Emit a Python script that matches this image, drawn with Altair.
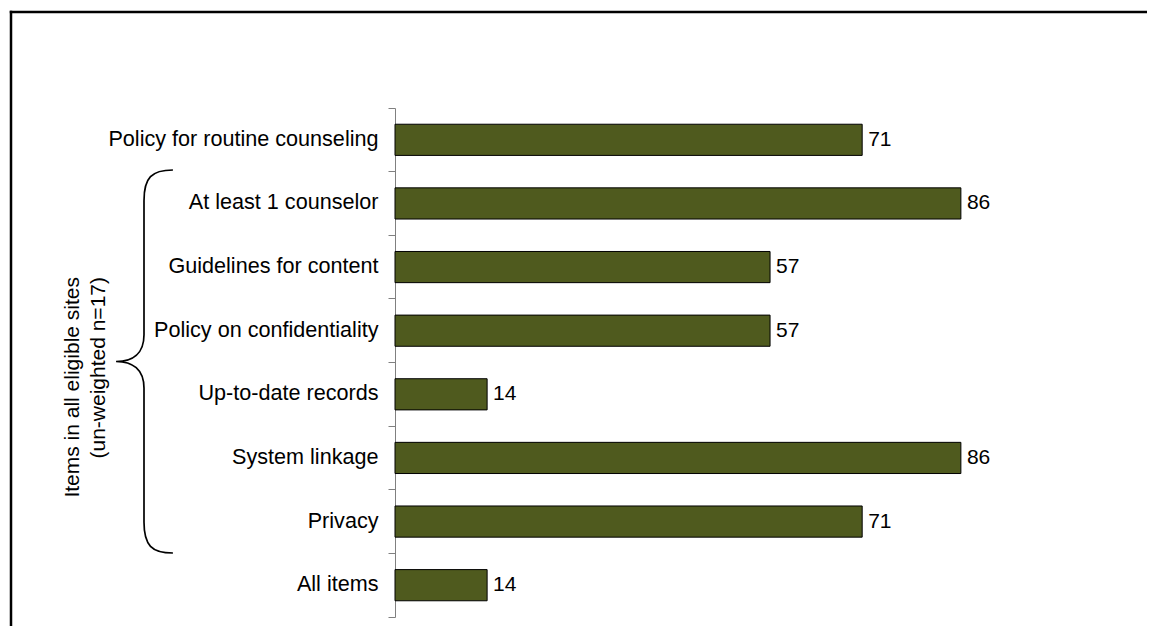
import altair as alt
import pandas as pd

categories = [
    "Policy for routine counseling",
    "At least 1 counselor",
    "Guidelines for content",
    "Policy on confidentiality",
    "Up-to-date records",
    "System linkage",
    "Privacy",
    "All items",
]
values = [71, 86, 57, 57, 14, 86, 71, 14]
group_label = ["Items in all eligible sites", "(un-weighted n=17)"]

FONT = "Liberation Sans"
BAR_COLOR = "#4F5A1E"

df = pd.DataFrame({"item": categories, "pct": values})

y_enc = alt.Y(
    "item:N",
    sort=categories,
    scale=alt.Scale(paddingInner=0, paddingOuter=0),
    axis=alt.Axis(
        title=None,
        labelFontSize=21.6,
        labelFont=FONT,
        labelColor="black",
        labelPadding=10,
        labelLimit=500,
        tickSize=7,
        tickColor="#808080",
        domainColor="#808080",
        bandPosition=1,
        tickExtra=True,
    ),
)
x_enc = alt.X("pct:Q", scale=alt.Scale(domain=[0, 100]), axis=None)

bars = alt.Chart(df).mark_bar(
    height={"band": 0.49}, color=BAR_COLOR, stroke="black", strokeWidth=1
).encode(x=x_enc, y=y_enc)

labels = alt.Chart(df).mark_text(
    align="left", baseline="middle", dx=6, fontSize=21, font=FONT, color="black"
).encode(x=x_enc, y=alt.Y("item:N", sort=categories), text="pct:Q")

one = alt.Data(values=[{"a": 1}])

frame_v = alt.Chart(one).mark_rule(color="black", strokeWidth=2.5).encode(
    x=alt.value(-384), y=alt.value(-97.25), y2=alt.value(620)
)
frame_h = alt.Chart(one).mark_rule(color="black", strokeWidth=2.5).encode(
    x=alt.value(-385.25), x2=alt.value(900), y=alt.value(-96)
)

brace_path = (
    "M 0.151 -1 C 0.04 -1 0 -0.96 0 -0.84 "
    "L 0 -0.14 C 0 -0.04 -0.06 0 -0.146 0 "
    "C -0.06 0 0 0.04 0 0.14 "
    "L 0 0.84 C 0 0.96 0.04 1 0.151 1"
)
brace = alt.Chart(one).mark_point(
    shape=brace_path, filled=False, stroke="black", strokeWidth=1.7,
    opacity=1, size=383 * 383,
).encode(x=alt.value(-251), y=alt.value(253.5))

group_text = alt.Chart(one).mark_text(
    angle=270, align="right", baseline="alphabetic", fontSize=21,
    font=FONT, color="black", lineHeight=26,
).encode(x=alt.value(-316), y=alt.value(169), text=alt.value(group_label))

chart = alt.layer(bars, labels, frame_v, frame_h, brace, group_text).properties(
    width=658,
    height=509,
    autosize=alt.AutoSizeParams(type="none"),
    padding={"left": 387, "top": 100, "right": 94, "bottom": 9},
    background="white",
).configure_view(stroke=None)

chart.save("out.html", embed_options={"renderer": "svg", "actions": False})
